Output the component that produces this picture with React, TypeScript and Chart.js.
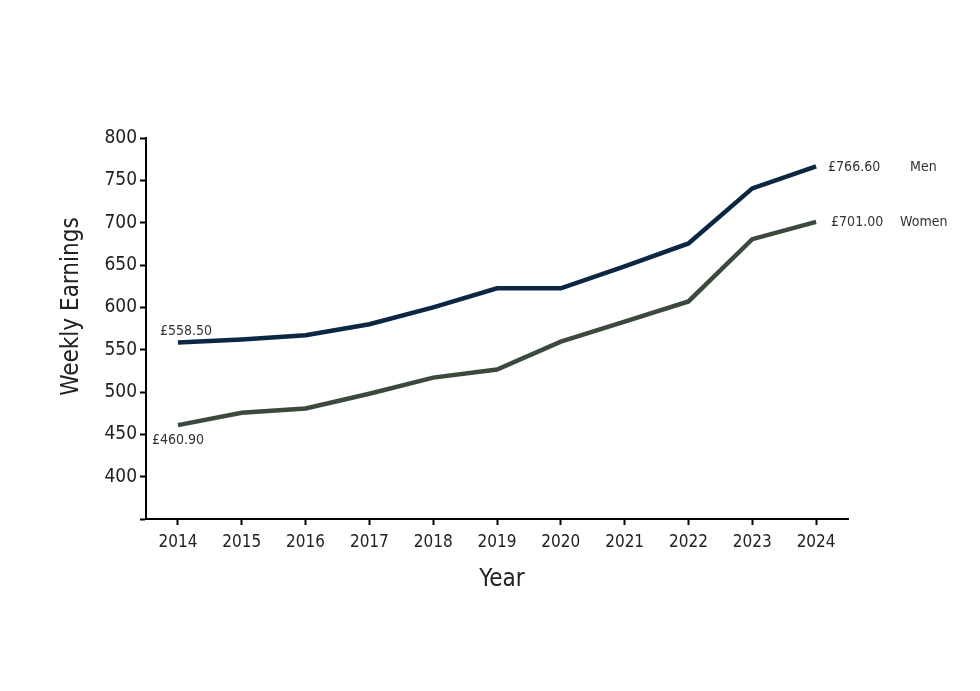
import { useEffect, useRef } from "react";
import { Chart, registerables } from "chart.js";

Chart.register(...registerables);

const years = ["2014", "2015", "2016", "2017", "2018", "2019", "2020", "2021", "2022", "2023", "2024"];
const menEarnings = [558.5, 562, 567, 580, 600, 622.5, 622.5, 648.5, 675.5, 740.5, 766.6];
const womenEarnings = [460.9, 475.5, 480.5, 498, 517, 526.5, 559.5, 583, 607, 680.5, 701.0];
const seriesNames = ["Men", "Women"];
const startLabels = ["£558.50", "£460.90"];
const endLabels = ["£766.60", "£701.00"];
const xTitle = "Year";
const yTitle = "Weekly Earnings";

const FONT = "'Liberation Sans Narrow', 'DejaVu Sans Condensed', Roboto, sans-serif";

// value labels next to the first and last points, plus the axis titles
const chartLabels = {
  id: "chartLabels",
  afterDatasetsDraw(chart: Chart) {
    const { ctx, chartArea } = chart;
    const x = chart.scales.x;
    const y = chart.scales.y;
    const last = years.length - 1;
    ctx.save();
    ctx.font = `14px ${FONT}`;
    ctx.fillStyle = "#333";
    ctx.textBaseline = "middle";
    ctx.textAlign = "left";

    const x0 = x.getPixelForValue(0);
    ctx.fillText(startLabels[0], x0 - 18, y.getPixelForValue(menEarnings[0]) - 11);
    ctx.fillText(startLabels[1], x0 - 26, y.getPixelForValue(womenEarnings[0]) + 15);

    const xl = x.getPixelForValue(last);
    const yMen = y.getPixelForValue(menEarnings[last]);
    const yWomen = y.getPixelForValue(womenEarnings[last]);
    ctx.fillText(endLabels[0], xl + 12, yMen + 1);
    ctx.fillText(seriesNames[0], xl + 94, yMen + 1);
    ctx.fillText(endLabels[1], xl + 15, yWomen + 1);
    ctx.fillText(seriesNames[1], xl + 84, yWomen + 1);

    ctx.font = `24px ${FONT}`;
    ctx.fillStyle = "#222";
    ctx.textAlign = "center";
    ctx.fillText(xTitle, (chartArea.left + chartArea.right) / 2 + 5, chartArea.bottom + 61);
    ctx.translate(72, (chartArea.top + chartArea.bottom) / 2 - 22);
    ctx.rotate(-Math.PI / 2);
    ctx.fillText(yTitle, 0, 0);
    ctx.restore();
  },
};

export default function App() {
  const chartRef = useRef<HTMLCanvasElement>(null);
  const chartInstance = useRef<Chart | null>(null);

  useEffect(() => {
    document.body.style.margin = "0";
    if (!chartRef.current) return;
    if (chartInstance.current) {
      chartInstance.current.destroy();
    }
    const ctx = chartRef.current.getContext("2d");
    if (!ctx) return;

    chartInstance.current = new Chart(ctx, {
      type: "line",
      data: {
        labels: years,
        datasets: [
          {
            label: seriesNames[0],
            data: menEarnings,
            borderColor: "#0b2744",
            borderWidth: 4.5,
            pointRadius: 0,
            tension: 0,
          },
          {
            label: seriesNames[1],
            data: womenEarnings,
            borderColor: "#3c4a3d",
            borderWidth: 4.5,
            pointRadius: 0,
            tension: 0,
          },
        ],
      },
      options: {
        responsive: false,
        animation: false,
        layout: {
          padding: { left: 0, right: 132, top: 138, bottom: 72 },
        },
        plugins: {
          legend: { display: false },
          tooltip: { enabled: false },
        },
        scales: {
          x: {
            offset: true,
            afterFit: (scale) => {
              scale.height = 100;
            },
            border: { color: "#000", width: 2 },
            grid: {
              drawOnChartArea: false,
              tickLength: 6,
              tickColor: "#000",
              tickWidth: 2,
              offset: false,
            },
            ticks: {
              color: "#222",
              padding: 7,
              font: { family: FONT, size: 17 },
              maxRotation: 0,
            },
          },
          y: {
            min: 350,
            max: 800,
            afterFit: (scale) => {
              scale.width = 146;
            },
            border: { color: "#000", width: 2 },
            grid: {
              drawOnChartArea: false,
              tickLength: 6,
              tickColor: "#000",
              tickWidth: 2,
            },
            ticks: {
              stepSize: 50,
              color: "#222",
              padding: 3,
              font: { family: FONT, size: 19 },
              callback: (value) => (Number(value) === 350 ? "" : String(value)),
            },
          },
        },
      },
      plugins: [chartLabels],
    });

    return () => {
      if (chartInstance.current) {
        chartInstance.current.destroy();
        chartInstance.current = null;
      }
    };
  }, []);

  return (
    <div style={{ width: 980, height: 691, background: "#fff" }}>
      <canvas ref={chartRef} width={980} height={691} />
    </div>
  );
}
